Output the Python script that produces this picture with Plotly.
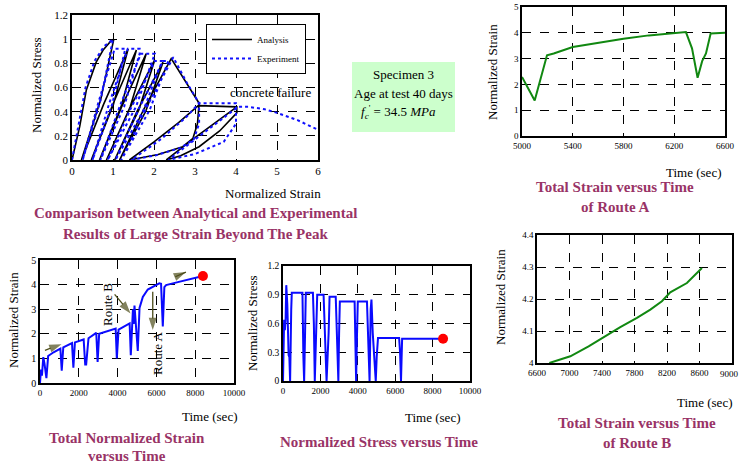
import plotly.graph_objects as go

W, H = 741, 466
SERIF = "Liberation Serif, Times New Roman, serif"
MAROON = "#993366"
OLIVE = "#4d4d1a"

# ---------------- Panel 1: stress-strain hysteresis ----------------
analysis_strain = [0, 0.19, 0.35, 0.59, 0.76, 0.96, 1.02,
                   0.70, 0.23,
                   0.77, 1.37,
                   1.01, 0.47,
                   0.99, 1.57,
                   1.21, 0.67,
                   1.21, 1.81,
                   1.42, 0.84,
                   1.39, 2.02,
                   1.63, 1.04,
                   1.59, 2.22,
                   1.80, 1.16,
                   1.75, 2.42,
                   2.75, 3.1,
                   3.06, 2.95, 2.7, 2.1, 1.4,
                   2.0, 2.6, 3.08,
                   4.02, 4.02,
                   3.6, 3.1, 2.65, 2.3,
                   2.9, 3.5, 4.02]
analysis_stress = [0, 0.28, 0.58, 0.81, 0.91, 0.99, 1.0,
                   0.5, 0,
                   0.46, 0.92,
                   0.46, 0,
                   0.455, 0.91,
                   0.455, 0,
                   0.44, 0.88,
                   0.44, 0,
                   0.415, 0.83,
                   0.415, 0,
                   0.405, 0.81,
                   0.405, 0,
                   0.42, 0.84,
                   0.66, 0.47,
                   0.3, 0.18, 0.11, 0.045, 0,
                   0.15, 0.31, 0.45,
                   0.44, 0.39,
                   0.24, 0.11, 0.035, 0,
                   0.16, 0.31, 0.44]

experiment_strain = [0, 0.17, 0.33, 0.55, 0.78, 1.0,
                     0.70, 0.26,
                     0.63, 1.04, 1.3,
                     0.98, 0.5,
                     0.90, 1.36, 1.65, 1.65,
                     1.27, 0.69,
                     1.16, 1.68, 2.02,
                     1.56, 0.87,
                     1.41, 2.02, 2.2,
                     1.74, 1.06,
                     1.61, 2.22, 2.35,
                     1.89, 1.2,
                     1.80, 2.47,
                     2.8, 3.1,
                     3.1, 2.97, 2.65, 2.05, 1.45,
                     2.2, 2.8, 3.1, 4.0,
                     4.0, 3.7, 3.0, 2.35,
                     3.0, 3.6, 4.05, 4.3,
                     4.7, 5.0, 5.5, 6.0]
experiment_stress = [0, 0.3, 0.6, 0.82, 0.94, 1.0,
                     0.5, 0,
                     0.46, 0.92, 0.92,
                     0.46, 0,
                     0.46, 0.92, 0.92, 0.88,
                     0.44, 0,
                     0.44, 0.88, 0.88,
                     0.44, 0,
                     0.41, 0.82, 0.82,
                     0.41, 0,
                     0.41, 0.82, 0.82,
                     0.41, 0,
                     0.425, 0.85,
                     0.64, 0.47,
                     0.3, 0.17, 0.1, 0.04, 0,
                     0.18, 0.36, 0.47, 0.47,
                     0.3, 0.15, 0.05, 0,
                     0.17, 0.32, 0.44, 0.44,
                     0.42, 0.39, 0.33, 0.25]

# ---------------- Panel 2: Route A ----------------
routeA_time = [5000, 5100, 5197, 5250, 5400, 5600, 5800, 6000, 6200, 6292, 6340, 6384, 6420, 6450, 6487, 6600]
routeA_strain = [2.29, 1.38, 3.13, 3.2, 3.45, 3.62, 3.77, 3.9, 3.99, 4.03, 3.4, 2.26, 2.9, 3.2, 3.97, 4.0]

# ---------------- Panel 3: total strain vs time ----------------
strain_time = [0, 50, 100, 170, 230, 330, 420, 700, 1050, 1120, 1200, 1650, 1720, 1800,
               2250, 2330, 2380, 2500, 2900, 2970, 3050, 3900, 3960, 4050, 4620, 4680,
               4790, 4830, 4870, 4960, 5040, 5130, 5300, 5555, 5810, 6150, 6240, 6330,
               6410, 6500, 7000, 7500, 8000, 8400]
strain_value = [0, 0.55, 0.3, 1.05, 0.8, 0.2, 1.1, 1.25, 1.4, 0.5, 1.45, 1.62, 0.62, 1.65,
                1.77, 0.75, 0.75, 1.82, 2.04, 0.86, 2.0, 2.21, 1.0, 2.17, 2.42, 1.13,
                3.0, 2.4, 3.15, 2.3, 1.3, 3.05, 3.5, 3.8, 3.9, 4.05, 4.03, 2.3,
                3.9, 3.98, 4.08, 4.17, 4.26, 4.35]

# ---------------- Panel 4: stress vs time ----------------
stress_time = [0, 60, 100, 140, 175, 230, 300, 340, 380, 400, 440, 470, 1040, 1090, 1130,
               1180, 1220, 1600, 1650, 1700, 1780, 1830, 2170, 2250, 2330, 2440, 2490,
               2820, 2900, 2960, 3000, 3040, 3830, 3870, 3910, 3960, 4000, 4490, 4560,
               4630, 4690, 4730, 4800, 4850, 4960, 5010, 5080, 6210, 6260, 6310, 6370, 8560]
stress_value = [0, 0.64, 0.53, 0.65, 1.0, 0.8, 0.27, 0.25, 0, 0.55, 0.75, 0.92, 0.92, 0.25, 0,
                0.5, 0.92, 0.92, 0.6, 0, 0.5, 0.9, 0.9, 0.3, 0, 0.5, 0.88,
                0.88, 0.4, 0, 0.5, 0.83, 0.83, 0.4, 0, 0.5, 0.83, 0.83, 0.3,
                0, 0.75, 0.85, 0.5, 0.3, 0, 0.25, 0.45, 0.45, 0.3, 0, 0.44, 0.44]

# ---------------- Panel 5: Route B ----------------
routeB_time = [6752, 7010, 7235, 7420, 7625, 7830, 7995, 8137, 8240, 8445, 8630]
routeB_strain = [4.0, 4.021, 4.052, 4.081, 4.112, 4.141, 4.167, 4.193, 4.221, 4.25, 4.297]

# arrows in panel 3 (tail -> head, data coordinates)
arrow_tail_time = [256, 6974, 3846, 5812]
arrow_tail_strain = [1.33, 4.32, 3.6, 3.71]
arrow_head_time = [1111, 7521, 4667, 5812]
arrow_head_strain = [1.58, 4.51, 2.83, 2.15]

# tick labels
p1_xticks = [0, 1, 2, 3, 4, 5, 6]
p1_yticks = [0, 0.2, 0.4, 0.6, 0.8, 1, 1.2]
p2_xticks = [5000, 5400, 5800, 6200, 6600]
p2_yticks = [0, 1, 2, 3, 4, 5]
p3_xticks = [0, 2000, 4000, 6000, 8000, 10000]
p3_yticks = [0, 1, 2, 3, 4, 5]
p4_xticks = [0, 2000, 4000, 6000, 8000, 10000]
p4_yticks = [0, 0.3, 0.6, 0.9, 1.2]
p5_xticks = [6600, 7000, 7400, 7800, 8200, 8600, 9000]
p5_yticks = [4, 4.1, 4.2, 4.3, 4.4]


def px_x(px):
    return px / W


def px_y(py):
    return 1 - py / H


fig = go.Figure()

fig.add_trace(go.Scatter(x=analysis_strain, y=analysis_stress, mode="lines", name="Analysis",
                         line=dict(color="black", width=1.6), xaxis="x", yaxis="y"))
fig.add_trace(go.Scatter(x=experiment_strain, y=experiment_stress, mode="lines", name="Experiment",
                         line=dict(color="#1010ff", width=2, dash="dot"), xaxis="x", yaxis="y"))
fig.add_trace(go.Scatter(x=routeA_time, y=routeA_strain, mode="lines", showlegend=False,
                         line=dict(color="#118811", width=2), xaxis="x2", yaxis="y2"))
fig.add_trace(go.Scatter(x=strain_time, y=strain_value, mode="lines", showlegend=False,
                         line=dict(color="#0a0aff", width=2), xaxis="x3", yaxis="y3"))
for tx, ty, hx, hy in zip(arrow_tail_time, arrow_tail_strain, arrow_head_time, arrow_head_strain):
    fig.add_trace(go.Scatter(x=[tx, hx], y=[ty, hy], mode="lines+markers", showlegend=False,
                             line=dict(color=OLIVE, width=1.3),
                             marker=dict(symbol="arrow", size=[0, 13], angleref="previous",
                                         color=OLIVE, line=dict(width=0)),
                             xaxis="x3", yaxis="y3", cliponaxis=False))
fig.add_trace(go.Scatter(x=[strain_time[-1]], y=[strain_value[-1]], mode="markers", showlegend=False,
                         marker=dict(color="red", size=10), xaxis="x3", yaxis="y3", cliponaxis=False))
fig.add_trace(go.Scatter(x=stress_time, y=stress_value, mode="lines", showlegend=False,
                         line=dict(color="#0a0aff", width=2), xaxis="x4", yaxis="y4"))
fig.add_trace(go.Scatter(x=[stress_time[-1]], y=[stress_value[-1]], mode="markers", showlegend=False,
                         marker=dict(color="red", size=10), xaxis="x4", yaxis="y4", cliponaxis=False))
fig.add_trace(go.Scatter(x=routeB_time, y=routeB_strain, mode="lines", showlegend=False,
                         line=dict(color="#118811", width=2), xaxis="x5", yaxis="y5"))


def axis(domain, rng, ticks, anchor, size, labels=None):
    return dict(domain=domain, range=rng, tickvals=ticks,
                ticktext=labels if labels else None, automargin=False,
                anchor=anchor, showline=True, mirror=True, linecolor="black", linewidth=1.5,
                showgrid=True, gridcolor="black", griddash="dash", gridwidth=1,
                zeroline=False, ticks="", ticklen=0,
                tickfont=dict(family=SERIF, size=size, color="black"), fixedrange=True)


panels = {
    1: ((72, 318), (15, 160)),
    2: ((522, 725), (7, 136)),
    3: ((40, 234), (260, 383)),
    4: ((283, 470), (266, 381)),
    5: ((537, 732), (235, 363)),
}


def dom(p):
    (x0, x1), (y0, y1) = panels[p]
    return [px_x(x0), px_x(x1)], [px_y(y1), px_y(y0)]


d1x, d1y = dom(1)
d2x, d2y = dom(2)
d3x, d3y = dom(3)
d4x, d4y = dom(4)
d5x, d5y = dom(5)

fig.update_layout(
    width=W, height=H, margin=dict(l=0, r=0, t=0, b=0, autoexpand=False),
    paper_bgcolor="white", plot_bgcolor="white",
    xaxis=axis(d1x, [0, 6], p1_xticks, "y", 11),
    yaxis=axis(d1y, [0, 1.2], p1_yticks, "x", 11),
    xaxis2=axis(d2x, [5000, 6600], p2_xticks, "y2", 9),
    yaxis2=axis(d2y, [0, 5], p2_yticks, "x2", 9),
    xaxis3=axis(d3x, [0, 10000], p3_xticks, "y3", 9, [str(v) for v in p3_xticks]),
    yaxis3=axis(d3y, [0, 5], p3_yticks, "x3", 10),
    xaxis4=axis(d4x, [0, 10000], p4_xticks, "y4", 9, [str(v) for v in p4_xticks]),
    yaxis4=axis(d4y, [0, 1.2], p4_yticks, "x4", 9.5),
    xaxis5=axis(d5x, [6600, 9000], p5_xticks[:-1], "y5", 9),
    yaxis5=axis(d5y, [4, 4.4], p5_yticks, "x5", 9),
    legend=dict(x=px_x(206), y=px_y(24), xanchor="left", yanchor="top",
                bgcolor="white", bordercolor="black", borderwidth=1,
                font=dict(family=SERIF, size=9, color="black"),
                itemwidth=40, tracegroupgap=0),
    showlegend=True,
)

ann = []


def txt(text, x, y, size=13, color="black", bold=False, angle=0, anchor="center"):
    t = f"<b>{text}</b>" if bold else text
    ann.append(dict(text=t, x=px_x(x), y=px_y(y), xref="paper", yref="paper",
                    showarrow=False, textangle=angle, xanchor=anchor, yanchor="middle",
                    font=dict(family=SERIF, size=size, color=color)))


# Panel 1 texts
txt("Normalized Stress", 36, 85, angle=-90)
txt("Normalized Strain", 273, 193)
txt("concrete failure", 270, 92)
txt("Comparison between Analytical and Experimental", 195, 213, 15, MAROON, True)
txt("Results of Large Strain Beyond The Peak", 195, 234, 15, MAROON, True)
# Panel 2
txt("Normalized Strain", 492, 72, angle=-90)
txt("Time (sec)", 694, 172)
txt("Total Strain versus Time", 615, 187, 15, MAROON, True)
txt("of Route A", 615, 207, 15, MAROON, True)
# Panel 3
txt("Normalized Strain", 13, 320, angle=-90)
txt("Time (sec)", 210, 416)
txt("Total Normalized Strain", 127, 438, 15, MAROON, True)
txt("versus Time", 127, 456, 15, MAROON, True)
txt("Route B", 107, 305, angle=-90)
txt("Route A", 157, 353, angle=-90)
# Panel 4
txt("Normalized Stress", 252, 323, angle=-90)
txt("Time (sec)", 433, 417)
txt("Normalized Stress versus Time", 379, 442, 15, MAROON, True)
# Panel 5
txt("Normalized Strain", 500, 297, angle=-90)
txt("Time (sec)", 705, 402)
txt("Total Strain versus Time", 637, 423, 15, MAROON, True)
txt("of Route B", 637, 443, 15, MAROON, True)
txt(str(p5_xticks[-1]), 741, 374, 9, anchor="right")
# Specimen box text
txt("Specimen 3", 403, 74)
txt("Age at test 40 days", 403, 93)
txt("<i>f</i><sub><i>c</i></sub><sup>'</sup> = 34.5 <i>MPa</i>", 398, 112)

fig.update_layout(annotations=ann)

fig.add_shape(type="rect", xref="paper", yref="paper",
              x0=px_x(352), x1=px_x(455), y0=px_y(132), y1=px_y(62),
              fillcolor="#ccffcc", line=dict(width=0), layer="below")

fig.write_html("out.html", config={"displayModeBar": False},
               post_script="document.body.style.margin='0';document.body.style.overflow='hidden';")
